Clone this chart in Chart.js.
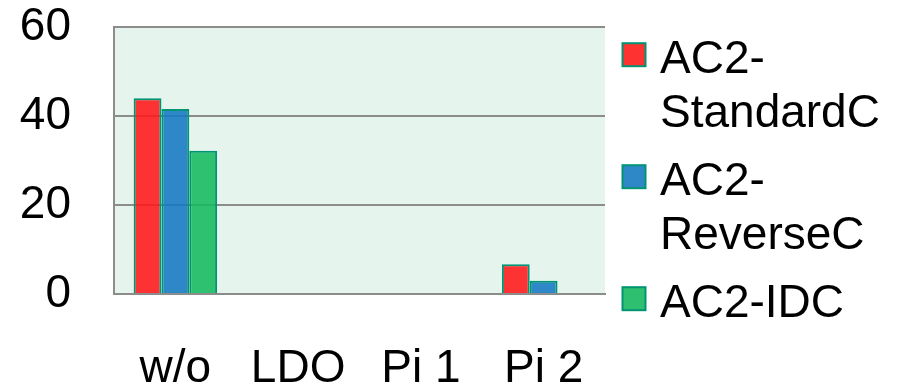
<!DOCTYPE html>
<html>
<head>
<meta charset="utf-8">
<script src="https://cdn.jsdelivr.net/npm/chart.js@4/dist/chart.umd.min.js"></script>
<style>
  html, body { margin: 0; padding: 0; background: #ffffff; }
  #wrap { width: 902px; height: 388px; position: relative; }
</style>
</head>
<body>
<div id="wrap"><canvas id="c" width="902" height="388"></canvas></div>
<script>
// Categories along the x axis
const categories = ['w/o', 'LDO', 'Pi 1', 'Pi 2'];

// Series values
const standardC = [44, 0, 0, 6.7];
const reverseC  = [41.6, 0, 0, 3.0];
const idc       = [32.2, 0, 0, 0];

// Series names
const seriesNames = ['AC2-StandardC', 'AC2-ReverseC', 'AC2-IDC'];

// Y axis ticks
const yTicks = [0, 20, 40, 60];

const FONT = '"Liberation Sans", Arial, Helvetica, sans-serif';
const solidColors = ['#ff3232', '#2e88c8', '#2ec070'];
const barColors   = ['rgba(255,24,24,0.88)', 'rgba(21,121,195,0.88)', 'rgba(21,185,95,0.88)'];
const edgeColor   = '#009473';
const gridColor   = '#8c8c8c';

const plotBackground = {
  id: 'plotBackground',
  beforeDraw(chart) {
    const { ctx, chartArea: a } = chart;
    ctx.save();
    ctx.fillStyle = '#e5f4ec';
    ctx.fillRect(a.left, a.top, a.right - a.left, a.bottom - a.top);
    ctx.restore();
  }
};

// Legend at the right, wrapping long names after the hyphen
const sideLegend = {
  id: 'sideLegend',
  afterDraw(chart) {
    const ctx = chart.ctx;
    const textX = 660, boxX = 622.5, boxSize = 23;
    const maxW = 902 - textX - 4;
    const lineH = 54, itemGap = 68;
    ctx.save();
    ctx.font = '46px ' + FONT;
    ctx.textBaseline = 'alphabetic';
    ctx.textAlign = 'left';
    let baseline = 72.7;
    chart.data.datasets.forEach((ds, i) => {
      const name = ds.label;
      let lines = [name];
      if (ctx.measureText(name).width > maxW) {
        const cut = name.indexOf('-') + 1;
        lines = [name.slice(0, cut), name.slice(cut)];
      }
      const top = baseline - 29.5;
      ctx.fillStyle = solidColors[i];
      ctx.fillRect(boxX, top, boxSize, boxSize);
      ctx.strokeStyle = edgeColor;
      ctx.lineWidth = 2;
      ctx.strokeRect(boxX, top, boxSize, boxSize);
      ctx.fillStyle = '#000000';
      lines.forEach((ln, k) => ctx.fillText(ln, textX, baseline + k * lineH));
      baseline += (lines.length - 1) * lineH + itemGap;
    });
    ctx.restore();
  }
};

const seriesValues = [standardC, reverseC, idc];

new Chart(document.getElementById('c'), {
  type: 'bar',
  data: {
    labels: categories,
    datasets: seriesValues.map((vals, i) => ({
      label: seriesNames[i],
      data: vals,
      backgroundColor: barColors[i],
      borderColor: edgeColor,
      borderWidth: 2,
      categoryPercentage: 0.68,
      barPercentage: 1.0
    }))
  },
  options: {
    responsive: false,
    animation: false,
    devicePixelRatio: 1,
    layout: { padding: { left: 0, right: 297, top: 27, bottom: 0 } },
    plugins: {
      legend: { display: false },
      tooltip: { enabled: false }
    },
    scales: {
      x: {
        grid: { display: false, drawTicks: false },
        border: { display: true, color: gridColor, width: 2 },
        ticks: {
          color: '#000000',
          font: { family: FONT, size: 46 },
          padding: 48,
          maxRotation: 0,
          autoSkip: false
        },
        afterFit(s) { s.height = 94; s.paddingLeft = 0; s.paddingRight = 0; }
      },
      y: {
        min: 0,
        max: 60,
        afterBuildTicks(s) { s.ticks = yTicks.map(v => ({ value: v })); },
        grid: { color: gridColor, lineWidth: 2, drawTicks: false },
        border: { display: true, color: gridColor, width: 2 },
        ticks: {
          color: '#000000',
          font: { family: FONT, size: 46 },
          padding: 43
        },
        afterFit(s) { s.width = 114; s.paddingTop = 0; s.paddingBottom = 0; }
      }
    }
  },
  plugins: [plotBackground, sideLegend]
});
</script>
</body>
</html>
